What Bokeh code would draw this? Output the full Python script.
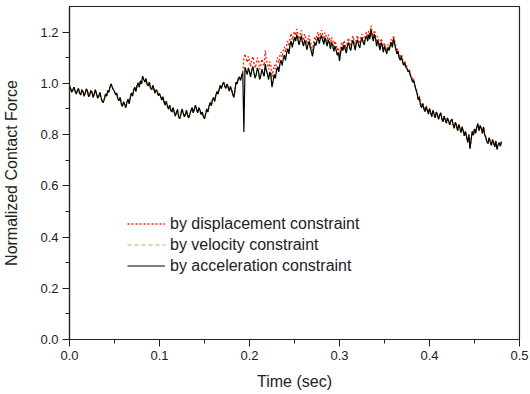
from bokeh.plotting import figure
from bokeh.models import (ColumnDataSource, Range1d, SingleIntervalTicker,
                          NumeralTickFormatter, Legend, LegendItem)
from bokeh.embed import file_html
from bokeh.resources import INLINE

# sampling of the curves (sec)
t_start = 0.0
t_step = 0.00125

# acceleration-constraint curve (black)
acc_force = [
    0.990, 0.980, 0.965, 0.975, 0.985, 0.970, 0.958, 0.972, 0.980, 0.962, 0.955, 0.975, 0.968, 0.950, 0.962, 0.978, 0.970, 0.948, 0.955, 0.972,
    0.965, 0.945, 0.958, 0.975, 0.960, 0.942, 0.950, 0.965, 0.945, 0.930, 0.925, 0.940, 0.958, 0.950, 0.972, 0.965, 0.985, 0.998, 0.985, 0.975,
    0.968, 0.955, 0.962, 0.940, 0.932, 0.945, 0.920, 0.910, 0.928, 0.918, 0.905, 0.925, 0.938, 0.920, 0.945, 0.962, 0.950, 0.972, 0.985, 0.968,
    0.990, 1.002, 0.985, 1.010, 0.998, 1.028, 1.015, 1.005, 1.018, 0.995, 0.990, 1.005, 0.982, 0.975, 0.992, 0.978, 0.962, 0.975, 0.968, 0.952,
    0.960, 0.948, 0.935, 0.948, 0.928, 0.915, 0.930, 0.912, 0.900, 0.915, 0.895, 0.888, 0.905, 0.890, 0.872, 0.885, 0.898, 0.870, 0.862, 0.880,
    0.900, 0.885, 0.870, 0.878, 0.895, 0.875, 0.865, 0.880, 0.895, 0.905, 0.885, 0.900, 0.915, 0.898, 0.885, 0.905, 0.895, 0.878, 0.888, 0.870,
    0.862, 0.880, 0.900, 0.888, 0.910, 0.925, 0.912, 0.935, 0.945, 0.930, 0.952, 0.968, 0.958, 0.975, 0.992, 0.980, 0.995, 1.005, 0.990, 0.980,
    0.998, 0.985, 0.970, 0.988, 0.975, 0.960, 0.945, 0.970, 1.005, 0.998, 1.018, 1.025, 1.012, 1.030, 1.042, 0.810, 1.062, 1.048, 1.035, 1.060,
    1.045, 1.025, 1.052, 1.065, 1.040, 1.020, 1.035, 1.060, 1.048, 1.015, 1.030, 1.055, 1.040, 1.028, 1.075, 1.050, 1.035, 1.015, 1.045, 1.030,
    0.985, 1.010, 1.035, 1.020, 1.050, 1.065, 1.045, 1.075, 1.090, 1.070, 1.095, 1.110, 1.090, 1.120, 1.135, 1.115, 1.150, 1.165, 1.140, 1.160,
    1.180, 1.165, 1.190, 1.172, 1.150, 1.168, 1.185, 1.160, 1.145, 1.170, 1.155, 1.132, 1.150, 1.165, 1.140, 1.125, 1.105, 1.135, 1.160, 1.148,
    1.168, 1.180, 1.155, 1.175, 1.188, 1.170, 1.152, 1.178, 1.165, 1.145, 1.170, 1.158, 1.135, 1.160, 1.148, 1.125, 1.145, 1.130, 1.110, 1.120,
    1.088, 1.120, 1.142, 1.128, 1.150, 1.135, 1.118, 1.145, 1.160, 1.140, 1.128, 1.155, 1.168, 1.148, 1.130, 1.158, 1.170, 1.150, 1.138, 1.165,
    1.178, 1.160, 1.150, 1.175, 1.185, 1.165, 1.190, 1.172, 1.210, 1.185, 1.165, 1.192, 1.175, 1.145, 1.168, 1.150, 1.130, 1.160, 1.145, 1.122,
    1.145, 1.130, 1.115, 1.140, 1.128, 1.145, 1.160, 1.140, 1.175, 1.155, 1.135, 1.115, 1.125, 1.100, 1.090, 1.105, 1.085, 1.070, 1.080, 1.062,
    1.058, 1.045, 1.050, 1.030, 1.020, 1.005, 1.012, 0.990, 0.975, 0.960, 0.935, 0.945, 0.915, 0.905, 0.920, 0.900, 0.890, 0.908, 0.895, 0.880,
    0.902, 0.885, 0.870, 0.895, 0.880, 0.865, 0.888, 0.878, 0.860, 0.875, 0.885, 0.862, 0.850, 0.872, 0.858, 0.845, 0.865, 0.852, 0.838, 0.855,
    0.860, 0.838, 0.825, 0.848, 0.835, 0.815, 0.840, 0.825, 0.808, 0.830, 0.815, 0.795, 0.812, 0.790, 0.770, 0.800, 0.745, 0.780, 0.812, 0.798,
    0.822, 0.805, 0.830, 0.842, 0.815, 0.835, 0.825, 0.805, 0.830, 0.800, 0.790, 0.772, 0.765, 0.788, 0.772, 0.758, 0.780, 0.768, 0.752, 0.775,
    0.742, 0.760, 0.768, 0.755, 0.772,
]

# displacement-constraint curve (red) where it departs from the black one
# (samples 155 .. 319, t = 0.19375 .. 0.39875 s)
disp_mid = [
    1.100, 1.115, 1.095, 1.082, 1.105,
    1.085, 1.065, 1.092, 1.105, 1.080, 1.060, 1.075, 1.100, 1.088, 1.055, 1.070, 1.095, 1.080, 1.068, 1.128, 1.090, 1.075, 1.055, 1.085, 1.070,
    1.025, 1.048, 1.072, 1.055, 1.085, 1.100, 1.080, 1.108, 1.122, 1.102, 1.127, 1.142, 1.122, 1.152, 1.166, 1.146, 1.180, 1.195, 1.170, 1.190,
    1.202, 1.187, 1.212, 1.194, 1.172, 1.190, 1.207, 1.182, 1.167, 1.192, 1.177, 1.154, 1.172, 1.187, 1.162, 1.147, 1.127, 1.157, 1.182, 1.170,
    1.188, 1.200, 1.175, 1.195, 1.208, 1.190, 1.172, 1.198, 1.185, 1.165, 1.190, 1.178, 1.155, 1.180, 1.168, 1.145, 1.165, 1.150, 1.130, 1.140,
    1.105, 1.137, 1.159, 1.145, 1.167, 1.152, 1.135, 1.162, 1.177, 1.157, 1.145, 1.172, 1.185, 1.165, 1.147, 1.175, 1.187, 1.167, 1.155, 1.182,
    1.193, 1.175, 1.165, 1.190, 1.200, 1.180, 1.205, 1.187, 1.225, 1.200, 1.180, 1.207, 1.190, 1.160, 1.183, 1.165, 1.145, 1.175, 1.160, 1.137,
    1.157, 1.142, 1.127, 1.152, 1.140, 1.157, 1.172, 1.152, 1.187, 1.167, 1.145, 1.125, 1.135, 1.110, 1.100, 1.114, 1.094, 1.079, 1.089, 1.071,
    1.064, 1.051, 1.056, 1.036, 1.026, 1.011, 1.018, 0.996, 0.981, 0.966, 0.941, 0.951, 0.921, 0.911, 0.926, 0.906, 0.896, 0.914, 0.901, 0.886,
]
# outside that stretch the red curve reads the same as the black one
disp_force = acc_force[:155] + disp_mid + acc_force[320:]

# velocity-constraint curve (green) reads the same as the black one,
# without the single downward spike at t = 0.19375 s
vel_force = acc_force[:155] + [1.045] + acc_force[156:]

time_sec = [round(t_start + i * t_step, 5) for i in range(len(acc_force))]

series_labels = ["by displacement constraint", "by velocity constraint",
                 "by acceleration constraint"]

FONT = "Liberation Sans"

src = ColumnDataSource(dict(t=time_sec, disp=disp_force, vel=vel_force, acc=acc_force))

p = figure(width=530, height=394, output_backend="svg", toolbar_location=None,
           x_range=Range1d(0, 0.5), y_range=Range1d(0, 1.3))
p.min_border_left = 69
p.min_border_right = 11
p.min_border_top = 6
p.min_border_bottom = 55
p.background_fill_color = "white"
p.border_fill_color = "white"
p.outline_line_color = "#222222"
p.outline_line_width = 1.2
p.grid.visible = False

r_disp = p.line("t", "disp", source=src, line_color="#ff1a00", line_width=1.3,
                line_dash="2 2")
r_vel = p.line("t", "vel", source=src, line_color="#7ccf3a", line_width=1.2,
               line_dash="4 3")
r_acc = p.line("t", "acc", source=src, line_color="black", line_width=1.2)

p.xaxis.ticker = SingleIntervalTicker(interval=0.1, num_minor_ticks=2)
p.yaxis.ticker = SingleIntervalTicker(interval=0.2, num_minor_ticks=2)
p.xaxis.formatter = NumeralTickFormatter(format="0.0")
p.yaxis.formatter = NumeralTickFormatter(format="0.0")

for ax in (p.xaxis[0], p.yaxis[0]):
    ax.axis_line_color = "#222222"
    ax.axis_line_width = 1.2
    ax.major_tick_line_color = "#222222"
    ax.minor_tick_line_color = "#222222"
    ax.major_tick_in = 0
    ax.major_tick_out = 7
    ax.minor_tick_in = 0
    ax.minor_tick_out = 4
    ax.major_label_text_font = FONT
    ax.major_label_text_font_size = "13px"
    ax.major_label_text_color = "#222222"
    ax.major_label_standoff = 4
    ax.axis_label_text_font = FONT
    ax.axis_label_text_font_size = "16px"
    ax.axis_label_text_font_style = "normal"
    ax.axis_label_text_color = "#222222"

p.xaxis.axis_label = "Time (sec)"
p.yaxis.axis_label = "Normalized Contact Force"
p.xaxis.axis_label_standoff = 10
p.yaxis.axis_label_standoff = 17

legend = Legend(items=[
    LegendItem(label=series_labels[0], renderers=[r_disp]),
    LegendItem(label=series_labels[1], renderers=[r_vel]),
    LegendItem(label=series_labels[2], renderers=[r_acc]),
], location=(58, 63))
legend.border_line_alpha = 0
legend.background_fill_alpha = 0
legend.padding = 0
legend.margin = 0
legend.spacing = 0
legend.label_height = 21
legend.glyph_height = 21
legend.glyph_width = 38
legend.label_standoff = 5
legend.label_text_font = FONT
legend.label_text_font_size = "16px"
legend.label_text_color = "#222222"
p.add_layout(legend, "center")

open("out.html", "w").write(file_html(p, INLINE))
